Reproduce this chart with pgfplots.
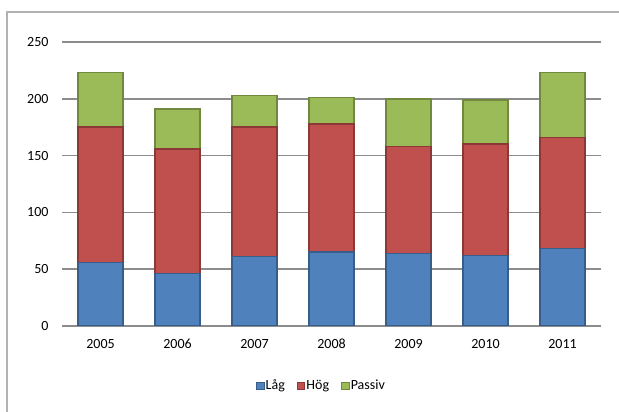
\documentclass[border=0pt]{standalone}
\usepackage{fontspec}
\setmainfont{Carlito}
\usepackage{pgfplots}
\pgfplotsset{compat=1.18}

\definecolor{lagfill}{HTML}{4F81BD}
\definecolor{lagline}{HTML}{385D8A}
\definecolor{hogfill}{HTML}{C0504D}
\definecolor{hogline}{HTML}{8C3836}
\definecolor{pasfill}{HTML}{9BBB59}
\definecolor{pasline}{HTML}{71893F}
\definecolor{gridgray}{HTML}{8C8C8C}

\begin{document}
\begin{tikzpicture}[x=1pt,y=1pt]
\useasboundingbox (0,0) rectangle (619,412);
\draw[gray!60, line width=1.2pt] (7,400) rectangle (660,-30);
\begin{axis}[
  at={(62pt,86pt)}, anchor=south west,
  scale only axis,
  width=539pt, height=284pt,
  ybar stacked,
  bar width=45pt,
  xmin=-0.5, xmax=6.5,
  ymin=0, ymax=250,
  xtick=data,
  xticklabels={2005,2006,2007,2008,2009,2010,2011},
  ytick={0,50,...,250},
  axis line style={draw=none},
  tick style={draw=none},
  ymajorgrids=true,
  grid style={gridgray, line width=1.5pt},
  /pgf/number format/assume math mode=true,
  tick label style={font=\fontsize{14}{17}\selectfont, text=black},
  yticklabel style={xshift=-10pt},
  xticklabel style={yshift=-9.5pt, text height=9.5pt, text depth=0pt},
  legend style={draw=none, at={(0.4805,-0.211)}, anchor=center,
    legend columns=3, font=\fontsize{14}{17}\selectfont,
    nodes={inner xsep=1pt, text height=10pt, text depth=3pt},
    /tikz/every even column/.append style={column sep=11pt}},
  legend image code/.code={\draw[#1, line width=1pt] (0pt,-3.8pt) rectangle (7.6pt,3.8pt);},
  legend cell align=left,
]
\addplot[fill=lagfill, draw=lagline, line width=1.5pt] coordinates
  {(0,56) (1,46) (2,61) (3,65) (4,64) (5,62) (6,68)};
\addplot[fill=hogfill, draw=hogline, line width=1.5pt] coordinates
  {(0,119) (1,110) (2,114) (3,113) (4,94) (5,98) (6,98)};
\addplot[fill=pasfill, draw=pasline, line width=1.5pt] coordinates
  {(0,48) (1,35) (2,28) (3,23) (4,42) (5,39) (6,57)};
\legend{Låg,Hög,Passiv}
\end{axis}
\end{tikzpicture}
\end{document}
